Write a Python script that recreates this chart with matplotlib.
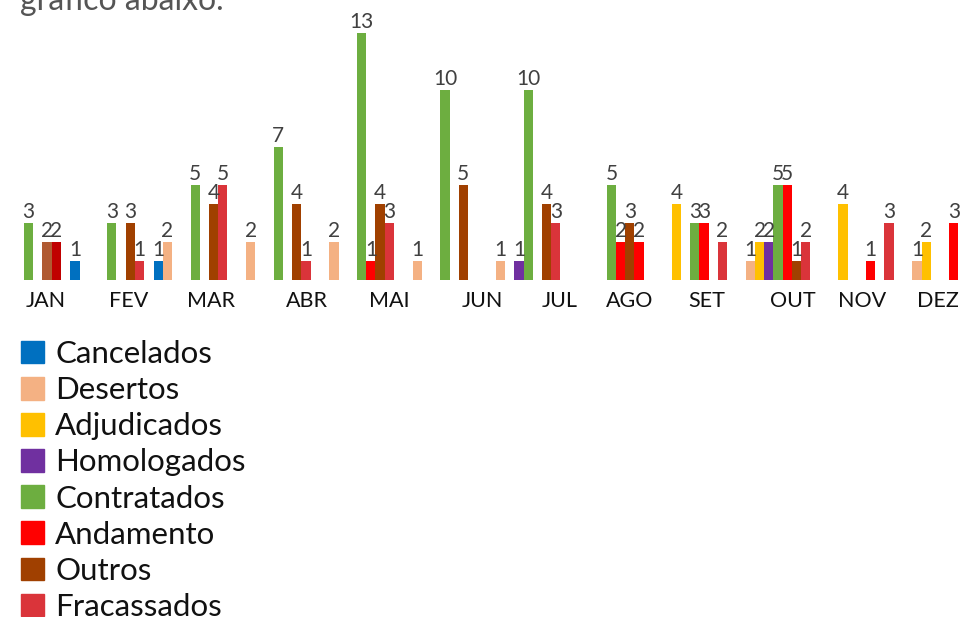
import matplotlib
matplotlib.use("Agg")
import matplotlib.pyplot as plt
import numpy as np

plt.rcParams['font.family'] = ['Lato', 'DejaVu Sans']

# data
months = ['JAN', 'FEV', 'MAR', 'ABR', 'MAI', 'JUN', 'JUL', 'AGO', 'SET', 'OUT', 'NOV', 'DEZ']
series = ['Cancelados', 'Desertos', 'Adjudicados', 'Homologados',
          'Contratados', 'Andamento', 'Outros', 'Fracassados']
cancelados  = [0, 1, 1, 0, 0, 0, 0, 0, 0, 0, 0, 0]
desertos    = [0, 0, 2, 2, 2, 1, 1, 0, 0, 1, 0, 1]
adjudicados = [0, 0, 0, 0, 0, 0, 0, 0, 4, 2, 4, 2]
homologados = [0, 0, 0, 0, 0, 0, 1, 0, 0, 2, 0, 0]
contratados = [3, 3, 5, 7, 13, 10, 10, 5, 3, 5, 0, 0]
andamento   = [0, 0, 0, 0, 1, 0, 0, 2, 3, 5, 1, 3]
outros      = [2, 3, 4, 4, 4, 5, 4, 3, 0, 1, 0, 0]
fracassados = [2, 1, 5, 1, 3, 0, 3, 2, 2, 2, 3, 0]
values = [cancelados, desertos, adjudicados, homologados,
          contratados, andamento, outros, fracassados]

colors = ['#0070C0', '#F4B183', '#FFC000', '#7030A0',
          '#6DAE40', '#FF0000', '#A04000', '#DA343A']
# a few bars drawn in a different shade in the original
special = {(0, 6): '#B05A32', (0, 7): '#C00000', (7, 7): '#FF0000'}
# month label shift from group centre, in pixels
label_shift = [22, 21, 20, 33, 32, 42, 36, 23, 17, 19, 5, -2]

W, H = 966, 617
fig = plt.figure(figsize=(W / 100, H / 100), dpi=100)

px = 83.27                      # pixels per month
x0 = 24                         # pixel of first group centre
base = 280                      # baseline pixel from top
unit = 19.0                     # pixels per unit
ymax = 14
ax = fig.add_axes([0, (H - base) / H, 1, ymax * unit / H])
ax.set_xlim(-x0 / px, (W - x0) / px)
ax.set_ylim(0, ymax)

bw = 9.2 / px
x = np.arange(len(months))
handles = []
for j, (name, vals, col) in enumerate(zip(series, values, colors)):
    pos = x + (j - 4) * bw
    cols = [special.get((i, j), col) for i in range(len(months))]
    bars = ax.bar(pos, vals, width=bw, align='edge', color=cols, linewidth=0)
    handles.append(plt.Rectangle((0, 0), 1, 1, color=col))
    for b, v in zip(bars, vals):
        if v > 0:
            ax.text(b.get_x() + b.get_width() / 2, v + 0.06, str(v),
                    ha='center', va='bottom', fontsize=15, color='#404040')

for i, m in enumerate(months):
    ax.text(i + label_shift[i] / px, -0.6, m, ha='center', va='top',
            fontsize=15.5, color='#111111')

ax.axis('off')

fig.text(20 / W, (H - 10) / H, 'gráfico abaixo.', fontsize=23,
         color='#555555', va='baseline', ha='left')

fig.legend(handles, series, loc='upper left',
           bbox_to_anchor=(21 / W, (H - 340) / H), frameon=False,
           fontsize=22.5, handlelength=0.74, handleheight=0.74,
           handletextpad=0.36, labelspacing=0.26, borderpad=0,
           borderaxespad=0, labelcolor='#111111')

fig.savefig('out.png', dpi=100)
